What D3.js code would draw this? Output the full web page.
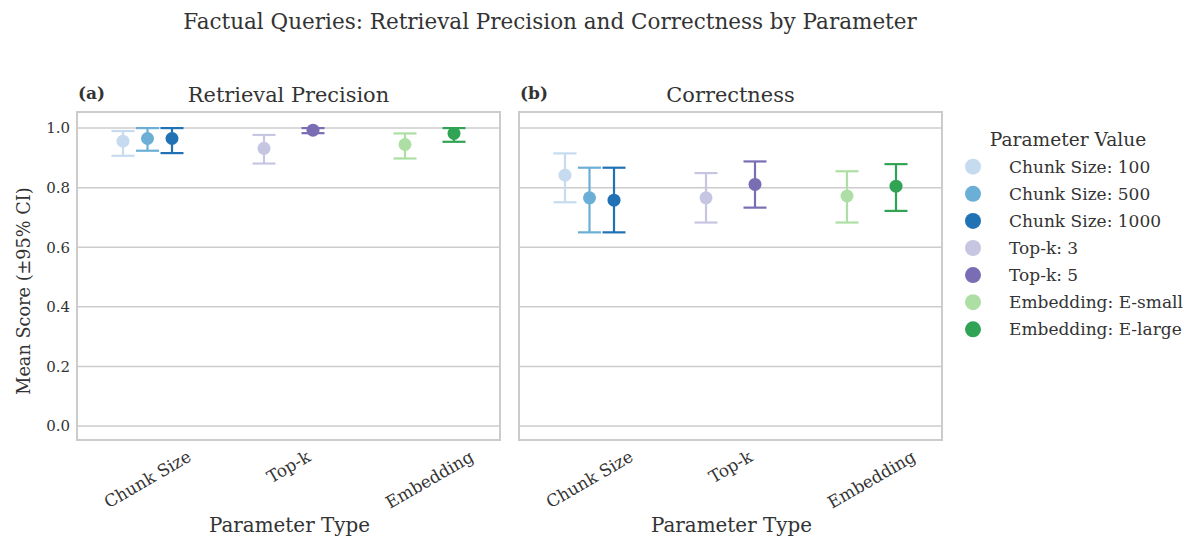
<!DOCTYPE html>
<html>
<head>
<meta charset="utf-8">
<script src="https://cdn.jsdelivr.net/npm/d3@7"></script>
<style>
  body { margin: 0; background: #fff; }
  svg { font-family: "DejaVu Serif", serif; }
</style>
</head>
<body>
<svg id="chart"></svg>
<script>
const categories = ["Chunk Size", "Top-k", "Embedding"];
const paramLabels = ["Chunk Size: 100", "Chunk Size: 500", "Chunk Size: 1000", "Top-k: 3", "Top-k: 5", "Embedding: E-small", "Embedding: E-large"];
const paramGroup = ["Chunk Size", "Chunk Size", "Chunk Size", "Top-k", "Top-k", "Embedding", "Embedding"];
const paramColors = ["#c6dbef", "#6baed6", "#2171b5", "#c6c6e2", "#7a6db3", "#addfa5", "#31a354"];

const precisionMean = [0.956, 0.965, 0.965, 0.932, 0.993, 0.945, 0.982];
const precisionLow  = [0.907, 0.924, 0.916, 0.881, 0.983, 0.898, 0.954];
const precisionHigh = [0.990, 1.000, 1.000, 0.977, 1.000, 0.982, 1.000];

const correctMean = [0.842, 0.766, 0.758, 0.766, 0.811, 0.772, 0.805];
const correctLow  = [0.751, 0.650, 0.650, 0.683, 0.733, 0.683, 0.722];
const correctHigh = [0.915, 0.867, 0.867, 0.849, 0.888, 0.855, 0.879];

const yTicks = [0.0, 0.2, 0.4, 0.6, 0.8, 1.0];

const W = 1184, H = 539;
const textColor = "#333333";
const gridColor = "#cccccc";

const svg = d3.select("#chart").attr("width", W).attr("height", H);

const yscale = d3.scaleLinear().domain([-0.047, 1.054]).range([440, 112]);

const panels = [
    { left: 77, right: 500, tag: "(a)", title: "Retrieval Precision", mean: precisionMean, low: precisionLow, high: precisionHigh, yLabels: true },
    { left: 519, right: 942, tag: "(b)", title: "Correctness", mean: correctMean, low: correctLow, high: correctHigh, yLabels: false }
];

svg.append("text")
    .attr("x", 550).attr("y", 29)
    .attr("text-anchor", "middle")
    .attr("font-size", 21.5)
    .attr("fill", textColor)
    .text("Factual Queries: Retrieval Precision and Correctness by Parameter");

panels.forEach(p => {
    const g = svg.append("g");
    const xscale = d3.scaleBand().domain(categories).range([p.left, p.right]).padding(0);
    const center = c => xscale(c) + xscale.bandwidth() / 2;

    // gridlines
    g.selectAll(".grid")
        .data(yTicks)
        .join("line")
        .attr("x1", p.left).attr("x2", p.right)
        .attr("y1", d => yscale(d)).attr("y2", d => yscale(d))
        .attr("stroke", gridColor).attr("stroke-width", 1.5);

    // frame
    g.append("rect")
        .attr("x", p.left).attr("y", 112)
        .attr("width", p.right - p.left).attr("height", 440 - 112)
        .attr("fill", "none").attr("stroke", gridColor).attr("stroke-width", 2);

    if (p.yLabels) {
        g.selectAll(".ytick")
            .data(yTicks)
            .join("text")
            .attr("x", p.left - 7)
            .attr("y", d => yscale(d))
            .attr("dy", "0.35em")
            .attr("text-anchor", "end")
            .attr("font-size", 15)
            .attr("fill", textColor)
            .text(d => d.toFixed(1));
    }

    // x tick labels, rotated 30deg around centre
    g.selectAll(".xtick")
        .data(categories)
        .join("text")
        .attr("text-anchor", "middle")
        .attr("dy", "0.35em")
        .attr("font-size", 16.9)
        .attr("fill", textColor)
        .text(d => d)
        .each(function (d) {
            const len = this.getComputedTextLength();
            const cy = 448 + (len * 0.5 + 16 * 0.87) / 2;
            d3.select(this).attr("transform", `translate(${center(d)},${cy}) rotate(-30)`);
        });

    g.append("text")
        .attr("x", (p.left + p.right) / 2 + 1).attr("y", 532)
        .attr("text-anchor", "middle")
        .attr("font-size", 19.9)
        .attr("fill", textColor)
        .text("Parameter Type");

    g.append("text")
        .attr("x", (p.left + p.right) / 2).attr("y", 102)
        .attr("text-anchor", "middle")
        .attr("font-size", 20.9)
        .attr("fill", textColor)
        .text(p.title);

    g.append("text")
        .attr("x", p.left + 1).attr("y", 99)
        .attr("font-size", 17)
        .attr("font-weight", "bold")
        .attr("fill", textColor)
        .text(p.tag);

    const rows = paramLabels.map((lab, i) => ({
        label: lab, group: paramGroup[i], color: paramColors[i],
        mean: p.mean[i], low: p.low[i], high: p.high[i]
    }));
    rows.forEach(r => {
        const members = paramLabels.filter((l, j) => paramGroup[j] === r.group);
        const dodge = d3.scalePoint().domain(members).range([-24.5, 24.5]);
        r.x = center(r.group) + (members.length > 1 ? dodge(r.label) : 0);
    });

    const pts = g.selectAll(".pt").data(rows).join("g");
    pts.append("line")
        .attr("x1", d => d.x).attr("x2", d => d.x)
        .attr("y1", d => yscale(d.low)).attr("y2", d => yscale(d.high))
        .attr("stroke", d => d.color).attr("stroke-width", 2.2);
    [d => d.low, d => d.high].forEach(acc => {
        pts.append("line")
            .attr("x1", d => d.x - 11.5).attr("x2", d => d.x + 11.5)
            .attr("y1", d => yscale(acc(d))).attr("y2", d => yscale(acc(d)))
            .attr("stroke", d => d.color).attr("stroke-width", 2.2);
    });
    pts.append("circle")
        .attr("cx", d => d.x).attr("cy", d => yscale(d.mean))
        .attr("r", 6.5)
        .attr("fill", d => d.color);
});

// y axis label
svg.append("text")
    .attr("transform", "translate(30,291) rotate(-90)")
    .attr("text-anchor", "middle")
    .attr("font-size", 17.7)
    .attr("fill", textColor)
    .text("Mean Score (\u00b195% CI)");

// legend
const legend = svg.append("g");
legend.append("text")
    .attr("x", 1068).attr("y", 146)
    .attr("text-anchor", "middle")
    .attr("font-size", 18.6)
    .attr("fill", textColor)
    .text("Parameter Value");
const items = legend.selectAll(".item")
    .data(paramLabels)
    .join("g")
    .attr("transform", (d, i) => `translate(0,${166.7 + i * 27.1})`);
items.append("circle")
    .attr("cx", 973).attr("cy", 0).attr("r", 8)
    .attr("fill", (d, i) => paramColors[i]);
items.append("text")
    .attr("x", 1009).attr("y", 0).attr("dy", "0.35em")
    .attr("font-size", 17)
    .attr("fill", textColor)
    .text(d => d);
</script>
</body>
</html>
